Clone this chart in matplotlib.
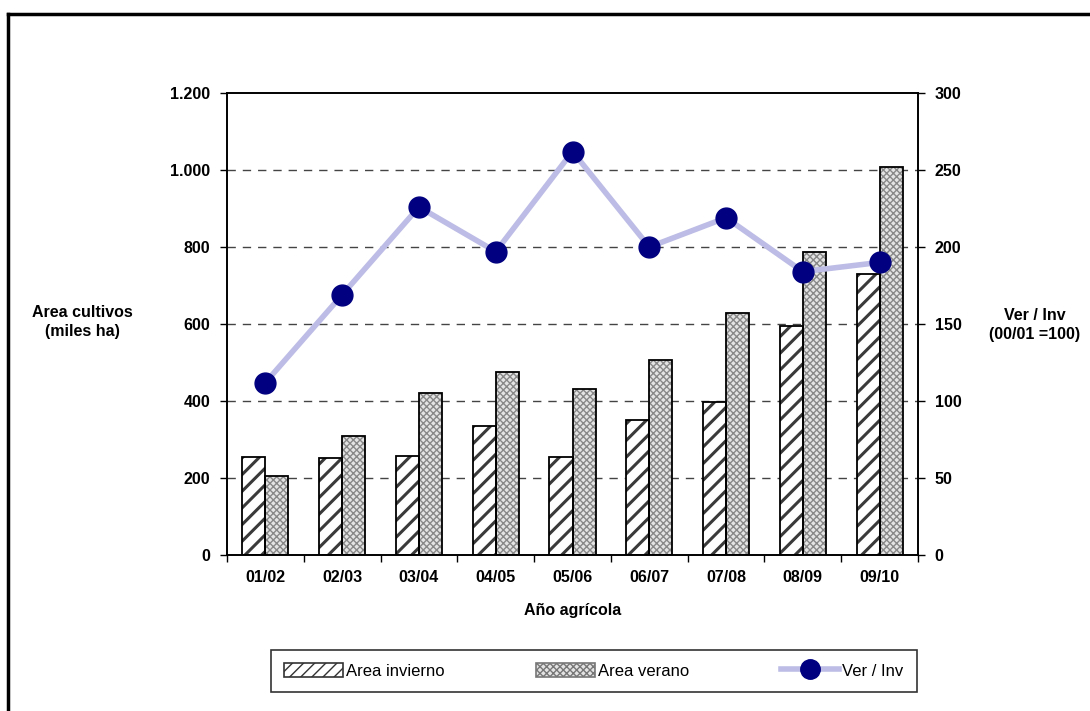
import numpy as np
import matplotlib
matplotlib.use("Agg")
import matplotlib.pyplot as plt
from matplotlib.patches import Patch
from matplotlib.lines import Line2D
from matplotlib.ticker import FuncFormatter

plt.rcParams["font.family"] = ["Liberation Sans", "DejaVu Sans"]

## data
years = ["01/02", "02/03", "03/04", "04/05", "05/06", "06/07", "07/08", "08/09", "09/10"]
area_invierno = [254, 252, 257, 335, 255, 351, 397, 595, 730]
area_verano = [205, 309, 421, 475, 431, 506, 629, 787, 1008]
ver_inv = [112, 169, 226, 197, 262, 200, 219, 184, 190]

x = np.arange(len(years))
w = 0.3
fs = 11.5

fig = plt.figure(figsize=(10.9, 7.11), dpi=100)
ax = fig.add_axes([0.2083, 0.2194, 0.6339, 0.6498])


def set_hw(patches, lw):
    for p in patches:
        if hasattr(p, "set_hatch_linewidth"):
            p.set_hatch_linewidth(lw)


## bars
with plt.rc_context({"hatch.linewidth": 2.2}):
    b1 = ax.bar(x - w/2, area_invierno, w, facecolor="white", edgecolor="#3a3a3a",
                hatch="//", linewidth=0, zorder=2)
set_hw(b1, 2.2)
ax.bar(x - w/2, area_invierno, w, fill=False, edgecolor="black", linewidth=1.3, zorder=3)
with plt.rc_context({"hatch.linewidth": 1.0}):
    b2 = ax.bar(x + w/2, area_verano, w, facecolor="#e4e4e4", edgecolor="#888888",
                hatch="xxxxx", linewidth=0, zorder=2)
set_hw(b2, 1.0)
ax.bar(x + w/2, area_verano, w, fill=False, edgecolor="black", linewidth=1.3, zorder=3)

ax.set_xlim(-0.5, len(years) - 0.5)
ax.set_ylim(0, 1200)
ax.set_yticks(np.arange(0, 1201, 200))
ax.yaxis.set_major_formatter(FuncFormatter(lambda v, p: f"{int(v):,}".replace(",", ".")))
for v in range(200, 1001, 200):
    ax.axhline(v, color="#444444", lw=1, ls=(0, (6, 5)), zorder=1)

ax.set_xticks(x)
ax.set_xticklabels(years)
ax.set_xticks(np.arange(-0.5, len(years)), minor=True)
ax.tick_params(axis="x", which="major", length=0, pad=11)
ax.tick_params(axis="x", which="minor", length=5, direction="out", width=1)
ax.tick_params(axis="y", length=5, direction="out", width=1, pad=7)
for lab in ax.get_xticklabels() + ax.get_yticklabels():
    lab.set_fontsize(fs)
    lab.set_fontweight("bold")
for s in ax.spines.values():
    s.set_linewidth(1.2)

ax.set_xlabel("Año agrícola", fontsize=fs, fontweight="bold", labelpad=13)

## right axis
ax2 = ax.twinx()
ax2.set_ylim(0, 300)
ax2.set_yticks(np.arange(0, 301, 50))
ax2.plot(x, ver_inv, color="#bcbce6", lw=4, marker="o", ms=15,
         mfc="#000080", mec="#000080", zorder=4)
ax2.tick_params(axis="y", length=5, direction="out", width=1, pad=7)
for lab in ax2.get_yticklabels():
    lab.set_fontsize(fs)
    lab.set_fontweight("bold")
for s in ax2.spines.values():
    s.set_linewidth(1.2)

fig.text(82/1090, 1 - 322/711, "Area cultivos\n(miles ha)", ha="center", va="center",
         fontsize=fs, fontweight="bold", linespacing=1.35)
fig.text(1035/1090, 1 - 325/711, "Ver / Inv\n(00/01 =100)", ha="center", va="center",
         fontsize=fs, fontweight="bold", linespacing=1.35)

## legend
with plt.rc_context({"hatch.linewidth": 1.8}):
    h1 = Patch(facecolor="white", edgecolor="#333333", hatch="///", linewidth=1.2)
h2 = Patch(facecolor="#e4e4e4", edgecolor="#777777", hatch="xxxxx", linewidth=1.2)
h3 = Line2D([0], [0], color="#bcbce6", lw=4, marker="o", ms=14,
            mfc="#000080", mec="#000080")
leg = fig.legend([h1, h2, h3], ["Area invierno", "Area verano", "Ver / Inv"],
                 loc="center", bbox_to_anchor=(594/1090, 1 - 671/711), ncol=3,
                 fontsize=12, frameon=True, fancybox=False, edgecolor="black",
                 handlelength=3.5, handletextpad=0.2, columnspacing=5.5,
                 borderpad=0.8, handleheight=0.9)
leg.get_frame().set_linewidth(1.2)

## outer frame
fig.add_artist(Line2D([8/1090, 1.0], [1 - 14/711, 1 - 14/711], color="black", lw=2.5,
                      transform=fig.transFigure))
fig.add_artist(Line2D([8/1090, 8/1090], [1 - 14/711, 0.0], color="black", lw=2.5,
                      transform=fig.transFigure))

plt.savefig("out.png", dpi=100)
